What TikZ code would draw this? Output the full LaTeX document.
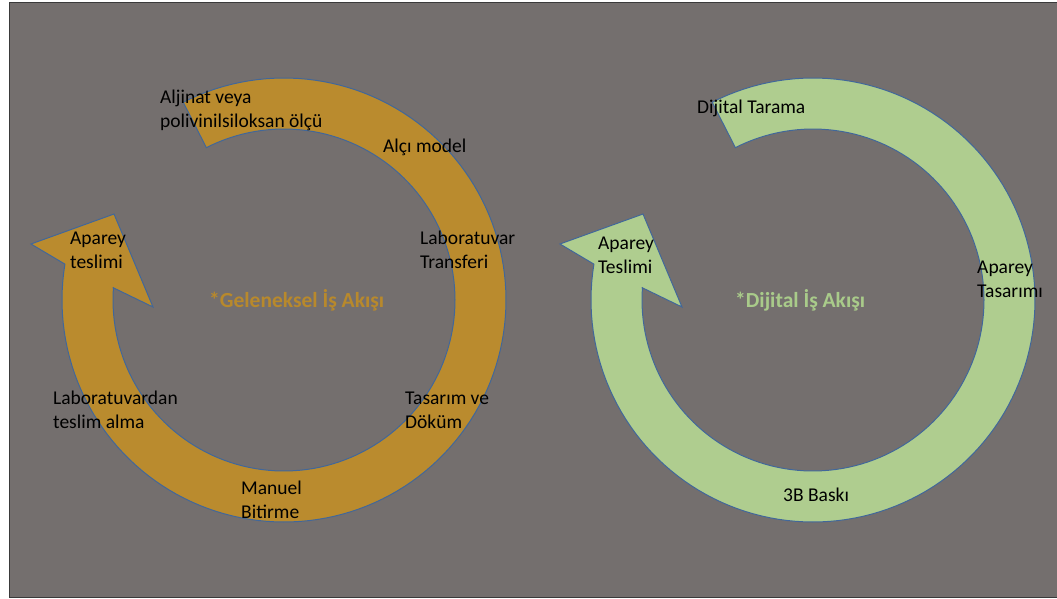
\documentclass[tikz,border=0pt]{standalone}
\usepackage{fontspec}
\setmainfont{Carlito}
\definecolor{bggray}{HTML}{746F6E}
\definecolor{bgline}{HTML}{3A3A3A}
\definecolor{goldfill}{HTML}{BA8B2E}
\definecolor{greenfill}{HTML}{AFCD8F}
\definecolor{edgeblue}{HTML}{41679A}
\definecolor{goldtext}{HTML}{B8892C}
\definecolor{greentext}{HTML}{A9CB8A}
\newcommand{\circarrowpath}{%
  plot[domain=-117:189.3, samples=140] ({284+222*cos(\x)},{300+222*sin(\x)})
  -- (31,244) -- (114,214) -- (153,307) -- (113.4,287.8)
  -- plot[domain=184.1:-117, samples=140] ({284+171*cos(\x)},{300+171*sin(\x)})
  -- cycle}
\begin{document}
\begin{tikzpicture}[x=1pt,y=-1pt,
  lbl/.style={anchor=base west, align=left, inner sep=0pt,
    font=\fontsize{19.5}{23.5}\selectfont, text=black},
  ttl/.style={anchor=base west, inner sep=0pt,
    font=\fontsize{21.5}{25}\selectfont\bfseries},
  arrowbody/.style={draw=edgeblue, line width=1pt, line join=miter}]
\useasboundingbox (0,0) rectangle (1057,598);
\fill[white] (0,0) rectangle (1057,598);
\draw[draw=bgline, fill=bggray, line width=1pt] (9.5,2.5) rectangle (1057.5,597.5);
% traditional workflow arrow
\path[arrowbody, fill=goldfill] \circarrowpath;
% digital workflow arrow
\begin{scope}[shift={(529,0)}]
\path[arrowbody, fill=greenfill] \circarrowpath;
\end{scope}
% labels, left cycle (two-line labels are placed by the baseline of their last line)
\node[lbl] (aljinat) at (160,127) {Aljinat veya\\polivinilsiloksan ölçü};
\node[lbl] (alci) at (383,152) {Alçı model};
\node[lbl] (labtr) at (420,268) {Laboratuvar\\Transferi};
\node[lbl] (tasarim) at (405,428) {Tasarım ve\\Döküm};
\node[lbl] (manuel) at (241,518) {Manuel\\Bitirme};
\node[lbl] (labteslim) at (53,428) {Laboratuvardan\\teslim alma};
\node[lbl] (apareyL) at (70,268) {Aparey\\teslimi};
\node[ttl, text=goldtext] (titleL) at (209,307) {*Geleneksel İş Akışı};
% labels, right cycle
\node[lbl] (dtarama) at (697,113) {Dijital Tarama};
\node[lbl] (apareyR) at (598,273) {Aparey\\Teslimi};
\node[lbl] (aptas) at (977,297) {Aparey\\Tasarımı};
\node[lbl] (baski) at (783,501) {3B Baskı};
\node[ttl, text=greentext] (titleR) at (735,307) {*Dijital İş Akışı};
\end{tikzpicture}
\end{document}
